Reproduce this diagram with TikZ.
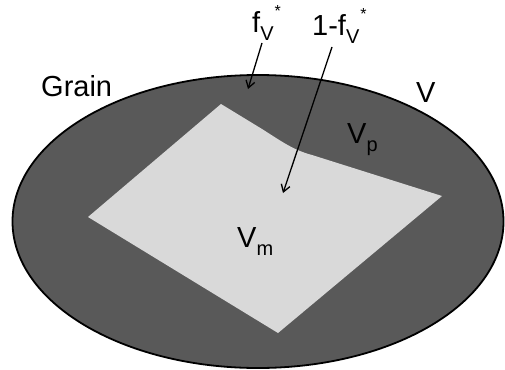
\documentclass[tikz,border=0pt]{standalone}
\usepackage{fontspec}
\setmainfont{Liberation Sans}
\usetikzlibrary{arrows.meta}
\newcommand{\lowsub}[1]{\raisebox{-8pt}{\fontsize{20}{20}\selectfont #1}}
\newcommand{\upstar}[1]{\raisebox{16pt}{\fontsize{16}{16}\selectfont #1}}
\begin{document}
\begin{tikzpicture}[x=1pt,y=-1pt,
  lbl/.style={inner sep=0pt,anchor=base west,font=\fontsize{29}{34}\selectfont},
  ptr/.style={line width=1.3pt,-{Straight Barb[length=7pt,width=9pt,line width=1.3pt]}}]
\useasboundingbox (0,0) rectangle (505,369);
\definecolor{darkgr}{HTML}{595959}
\definecolor{lightgr}{HTML}{D9D9D9}
\fill[white] (0,0) rectangle (505,369);
% grain ellipse
\draw[fill=darkgr,line width=1.8pt] (258,221.5) ellipse [x radius=245.5,y radius=146.5];
% matrix region
\fill[lightgr] (221,104) -- (262,129) .. controls (281,141) and (293,150) .. (312,155) -- (442,196) -- (278,333) -- (88,217) -- cycle;
% labels
\node[lbl] (grain) at (41,96) {Grain};
\node[lbl] (v) at (416,102) {V};
\node[lbl] (vp) at (347,143) {V\lowsub{p}};
\node[lbl] (vm) at (237,247) {V\lowsub{m}};
\node[lbl] (fv) at (252,33) {f\lowsub{V}\hspace{1pt}\upstar{*}};
\node[lbl] (onefv) at (312,36) {1-f\lowsub{V}\hspace{1pt}\upstar{*}};
% arrows
\coordinate (fvs) at (262,43);
\coordinate (fve) at (248,89);
\coordinate (ofs) at (332,47);
\coordinate (ofe) at (283,193);
\draw[ptr] (fvs) -- (fve);
\draw[ptr] (ofs) -- (ofe);
\end{tikzpicture}
\end{document}
